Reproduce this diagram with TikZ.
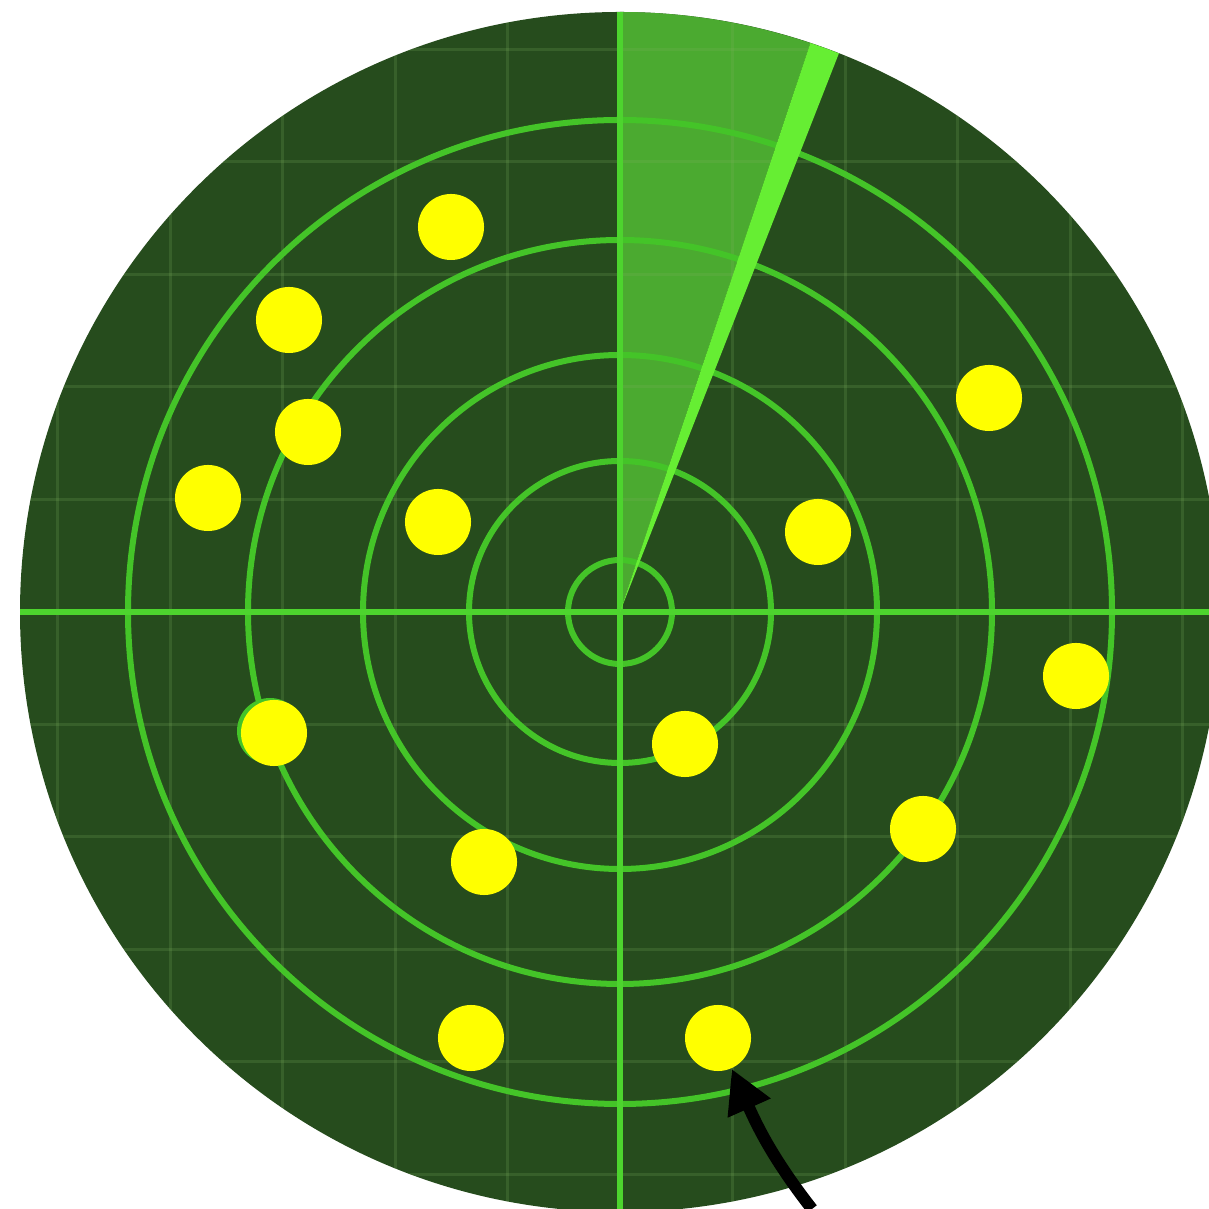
\documentclass[tikz,border=0pt]{standalone}
\usepackage{tikz}
\usetikzlibrary{arrows.meta}
\definecolor{radarbg}{HTML}{264C1D}
\definecolor{sweep}{HTML}{4BAA30}
\definecolor{sweepedge}{HTML}{66EE33}
\definecolor{ringgreen}{HTML}{44C428}
\definecolor{axisgreen}{HTML}{4DD42E}
\definecolor{gridgreen}{HTML}{7FB060}
\definecolor{blipyellow}{HTML}{FFFF00}

\begin{document}
\begin{tikzpicture}[x=0.01cm, y=0.01cm,
  blip/.style={circle, fill=blipyellow, minimum size=0.66cm, inner sep=0pt},
  ring/.style={draw=ringgreen, line width=0.06cm}]
  \useasboundingbox (0,0) rectangle (1209,1209);
  \coordinate (c) at (620,597);
  % Screen
  \fill[radarbg] (c) circle[radius=600];
  \begin{scope}
    \clip (c) circle[radius=600];
    % Sweep
    \fill[sweep] (c) -- ++(71.5:600) arc[start angle=71.5, end angle=90, radius=600] -- cycle;
    % Grid
    \foreach \k in {-5,...,5} {
      \draw[gridgreen, opacity=0.2, line width=0.03cm] (620+112.5*\k,0) -- (620+112.5*\k,1209);
      \draw[gridgreen, opacity=0.2, line width=0.03cm] (0,597+112.5*\k) -- (1209,597+112.5*\k);
    }
    % Range rings
    \foreach \r in {52,151,257,372,492}
      \draw[ring] (c) circle[radius=\r];
    % Axes
    \draw[axisgreen, line width=0.055cm] (20,597) -- (1220,597);
    \draw[axisgreen, line width=0.055cm] (620,-3) -- (620,1197);
    % Leading edge of the sweep
    \fill[sweepedge] (c) -- ++(68.6:600) arc[start angle=68.6, end angle=71.5, radius=600] -- cycle;
  \end{scope}
  % Blips
  \fill[ringgreen] (270,478) circle[radius=33];
  \node[blip] (b1) at (451,982) {};
  \node[blip] (b2) at (289,889) {};
  \node[blip] (b3) at (308,777) {};
  \node[blip] (b4) at (208,711) {};
  \node[blip] (b5) at (438,687) {};
  \node[blip] (b6) at (989,811) {};
  \node[blip] (b7) at (818,677) {};
  \node[blip] (b8) at (1076,533) {};
  \node[blip] (b9) at (274,476) {};
  \node[blip] (b10) at (685,465) {};
  \node[blip] (b11) at (923,380) {};
  \node[blip] (b12) at (484,347) {};
  \node[blip] (b13) at (471,171) {};
  \node[blip] (b14) at (718,171) {};
  % Pointer
  \coordinate (pointer) at (812,0);
  \draw[line width=0.12cm, -{Triangle[length=0.43cm, width=0.44cm]}]
    (pointer) to[out=128, in=-66] (b14);
\end{tikzpicture}
\end{document}
